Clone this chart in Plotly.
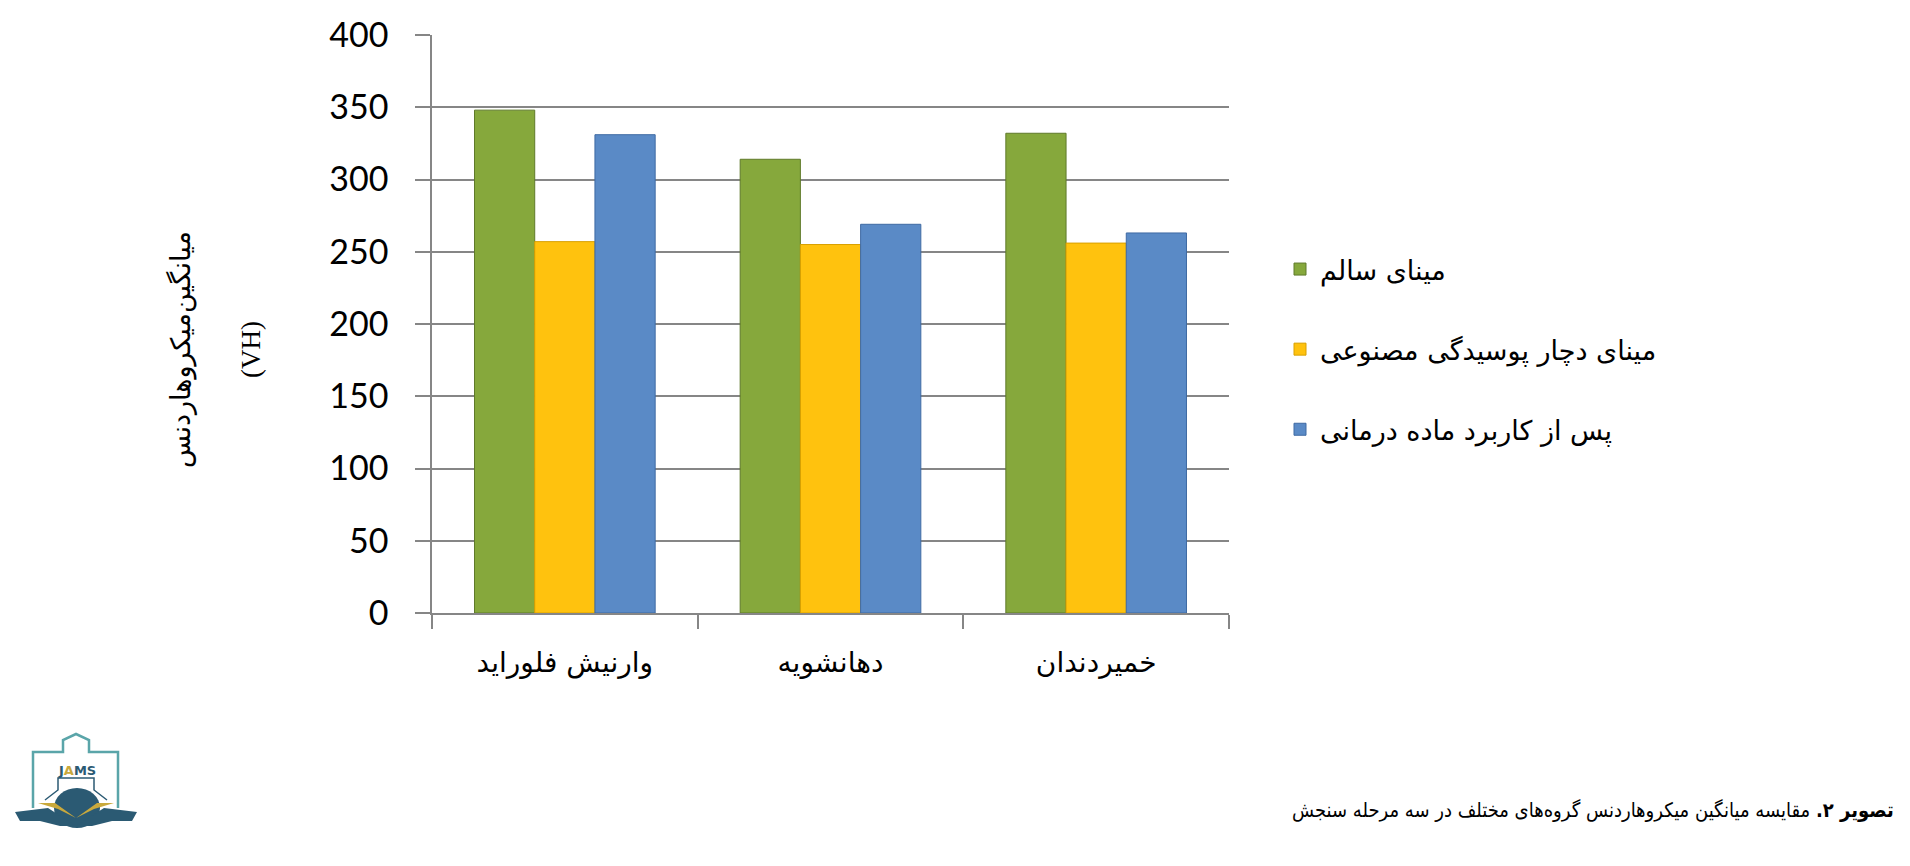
import plotly.graph_objects as go

categories = ["وارنیش فلوراید", "دهانشویه", "خمیردندان"]
series_names = ["مینای سالم", "مینای دچار پوسیدگی مصنوعی", "پس از کاربرد ماده درمانی"]
healthy = [348, 314, 332]
caries = [257, 255, 256]
treated = [331, 269, 263]
y_ticks = [0, 50, 100, 150, 200, 250, 300, 350, 400]

colors = ["#86a83c", "#ffc20e", "#5a8ac6"]
line_colors = ["#5f7a2a", "#d9a000", "#3f6aa3"]

# page has an 8px body margin; coordinates below are screen pixels
OFF = 8
W, H = 1910 - 2 * OFF, 866 - 2 * OFF
L, R, T, B = 432, 1229, 35, 613


def px(x):
    return (x - L) / (R - L)


def py(y):
    return (B - y) / (B - T)


fig = go.Figure()
for i, (name, vals) in enumerate(zip(series_names, [healthy, caries, treated])):
    fig.add_trace(go.Bar(
        x=categories, y=vals, name=name,
        marker=dict(color=colors[i], line=dict(color=line_colors[i], width=1)),
        legendgroup=str(i),
    ))

grid = "#868686"
fig.update_layout(
    width=W, height=H,
    margin=dict(l=L - OFF, r=W - (R - OFF), t=T - OFF, b=H - (B - OFF), autoexpand=False),
    paper_bgcolor="white", plot_bgcolor="white",
    barmode="group", bargap=0.32, bargroupgap=0,
    showlegend=True,
    legend=dict(
        x=px(1280), y=py(245), xanchor="left", yanchor="top",
        font=dict(family="DejaVu Sans, sans-serif", size=27, color="black"),
        traceorder="grouped", tracegroupgap=42,
        bgcolor="rgba(0,0,0,0)",
    ),
    xaxis=dict(
        showline=True, linecolor=grid, linewidth=1.5,
        ticks="outside", tickson="boundaries", ticklen=14, tickcolor=grid, tickwidth=1.5,
        tickfont=dict(family="DejaVu Sans, sans-serif", size=28, color="black"),
        ticklabelstandoff=24,
        showgrid=False,
    ),
    yaxis=dict(
        range=[0, 400], tickvals=y_ticks,
        showline=True, linecolor=grid, linewidth=1.5,
        showgrid=True, gridcolor=grid, gridwidth=1.5,
        ticks="outside", ticklen=15, tickcolor=grid, tickwidth=1.5,
        tickfont=dict(family="Lato, Open Sans, sans-serif", size=34, color="black"),
        ticklabelstandoff=20,
        zeroline=False,
        automargin=False,
    ),
)

# Y-axis title (placed as rotated text to match its offset position)
fig.add_annotation(
    xref="paper", yref="paper", x=px(215), y=py(349), xanchor="center", yanchor="middle",
    text="میانگین‌میکروهاردنس<br><br>(VH)", textangle=-90, showarrow=False,
    font=dict(family="Liberation Serif, DejaVu Sans, serif", size=27, color="black"),
)

# Caption
fig.add_annotation(
    xref="paper", yref="paper", x=px(1896), y=py(810), xanchor="right", yanchor="middle",
    text="<b>تصویر ۲.</b> مقایسه میانگین میکروهاردنس گروه‌های مختلف در سه مرحله سنجش",
    showarrow=False,
    font=dict(family="DejaVu Sans Condensed, DejaVu Sans, sans-serif", size=20, color="black"),
)

# Simple logo approximation (bottom-left)
teal = "#5aa5a9"
navy = "#2b5a73"
gold = "#c9a93c"
outline = [(33, 808), (33, 752), (63, 752), (63, 740), (76, 734), (89, 740), (89, 752), (118, 752), (118, 808)]
path = "M " + " L ".join(f"{px(x)},{py(y)}" for x, y in outline)
fig.add_shape(type="path", xref="paper", yref="paper", path=path, line=dict(color=teal, width=2.5))
inner = [(45, 800), (58, 790), (58, 778), (94, 778), (94, 790), (107, 800)]
path2 = "M " + " L ".join(f"{px(x)},{py(y)}" for x, y in inner)
fig.add_shape(type="path", xref="paper", yref="paper", path=path2, line=dict(color=navy, width=1.5))
fig.add_shape(type="circle", xref="paper", yref="paper",
              x0=px(54), x1=px(100), y0=py(828), y1=py(788),
              fillcolor=navy, line=dict(width=0))
wing_l = [(15, 812), (48, 808), (76, 826), (60, 826), (40, 821), (20, 821)]
wing_r = [(137, 812), (104, 808), (76, 826), (92, 826), (112, 821), (132, 821)]
for wpts in (wing_l, wing_r):
    p = "M " + " L ".join(f"{px(x)},{py(y)}" for x, y in wpts) + " Z"
    fig.add_shape(type="path", xref="paper", yref="paper", path=p, fillcolor=navy, line=dict(width=0))
gold_l = [(38, 803), (55, 803), (76, 818), (58, 809)]
gold_r = [(114, 803), (97, 803), (76, 818), (94, 809)]
for gpts in (gold_l, gold_r):
    p = "M " + " L ".join(f"{px(x)},{py(y)}" for x, y in gpts) + " Z"
    fig.add_shape(type="path", xref="paper", yref="paper", path=p, fillcolor=gold, line=dict(width=0))
fig.add_annotation(
    xref="paper", yref="paper", x=px(77), y=py(770), xanchor="center", yanchor="middle",
    text="<b>J<span style='color:%s'>A</span>MS</b>" % gold, showarrow=False,
    font=dict(family="DejaVu Sans, sans-serif", size=13, color=navy),
)

fig.write_html("out.html")
